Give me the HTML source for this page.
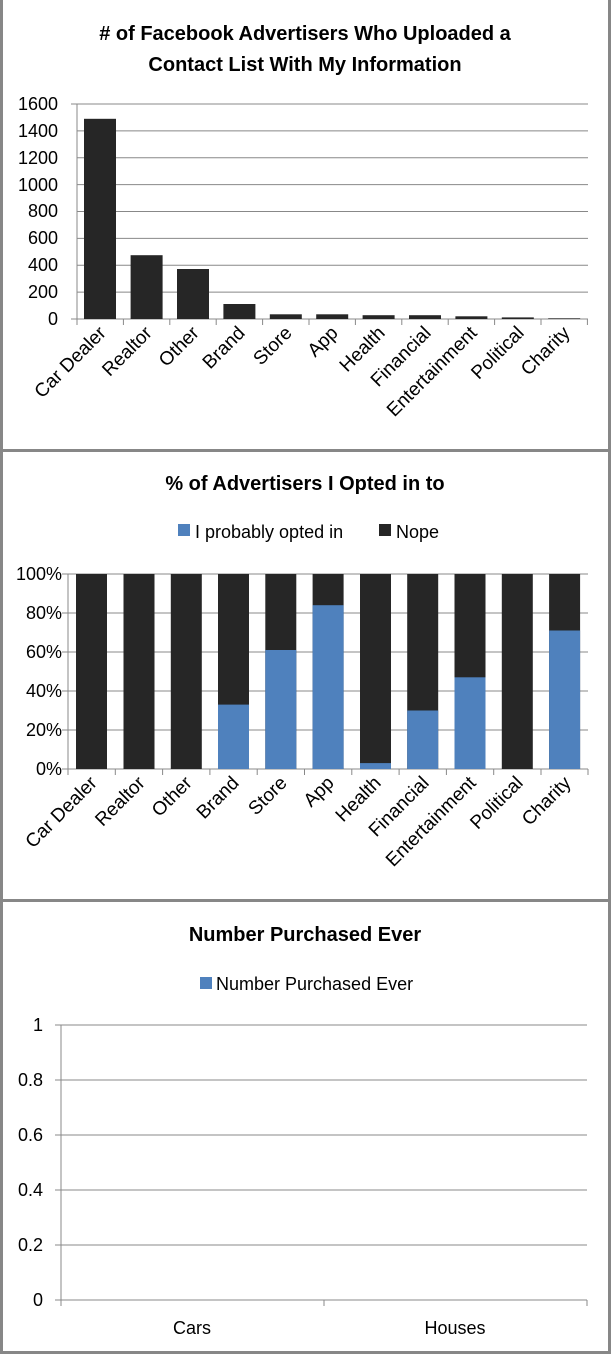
<!DOCTYPE html>
<html><head><meta charset="utf-8"><style>
html,body{margin:0;padding:0;background:#fff}
svg{display:block;font-family:"Liberation Sans",Calibri,sans-serif}
</style></head><body>
<svg width="611" height="1354" viewBox="0 0 611 1354" xmlns="http://www.w3.org/2000/svg">
<rect x="0" y="0" width="611" height="1354" fill="#fff"/>
<g fill="#878787">
<rect x="0" y="0" width="3" height="1354"/>
<rect x="608" y="0" width="3" height="1354"/>
<rect x="0" y="449" width="611" height="3"/>
<rect x="0" y="899" width="611" height="3"/>
<rect x="0" y="1351" width="611" height="3"/>
</g>

<!-- Chart 1 -->
<g font-weight="bold" font-size="20" text-anchor="middle" fill="#000">
<text x="305" y="40"># of Facebook Advertisers Who Uploaded a</text>
<text x="305" y="71">Contact List With My Information</text>
</g>
<g stroke="#888" stroke-width="1">
<line x1="77" y1="292.1" x2="588" y2="292.1"/><line x1="77" y1="265.2" x2="588" y2="265.2"/>
<line x1="77" y1="238.4" x2="588" y2="238.4"/><line x1="77" y1="211.5" x2="588" y2="211.5"/>
<line x1="77" y1="184.6" x2="588" y2="184.6"/><line x1="77" y1="157.8" x2="588" y2="157.8"/>
<line x1="77" y1="130.9" x2="588" y2="130.9"/><line x1="77" y1="104" x2="588" y2="104"/>
<line x1="77" y1="104" x2="77" y2="325"/><line x1="71" y1="319" x2="588" y2="319"/>
<line x1="71" y1="104" x2="77" y2="104"/>
<line x1="123.4" y1="319" x2="123.4" y2="325"/><line x1="169.8" y1="319" x2="169.8" y2="325"/>
<line x1="216.2" y1="319" x2="216.2" y2="325"/><line x1="262.6" y1="319" x2="262.6" y2="325"/>
<line x1="309" y1="319" x2="309" y2="325"/><line x1="355.4" y1="319" x2="355.4" y2="325"/>
<line x1="401.8" y1="319" x2="401.8" y2="325"/><line x1="448.2" y1="319" x2="448.2" y2="325"/>
<line x1="494.6" y1="319" x2="494.6" y2="325"/><line x1="541" y1="319" x2="541" y2="325"/>
<line x1="587.4" y1="319" x2="587.4" y2="325"/>
</g>
<g fill="#262626">
<rect x="84" y="118.8" width="32" height="200.2"/>
<rect x="130.6" y="255.2" width="32" height="63.8"/>
<rect x="177" y="269" width="32" height="50"/>
<rect x="223.4" y="304" width="32" height="15"/>
<rect x="269.8" y="314.3" width="32" height="4.7"/>
<rect x="316.2" y="314.3" width="32" height="4.7"/>
<rect x="362.6" y="315.2" width="32" height="3.8"/>
<rect x="409" y="315.2" width="32" height="3.8"/>
<rect x="455.4" y="316.3" width="32" height="2.7"/>
<rect x="501.8" y="317.4" width="32" height="1.6"/>
<rect x="548.2" y="318.3" width="32" height="0.7"/>
</g>
<g font-size="18" text-anchor="end" fill="#000">
<text x="58" y="325">0</text><text x="58" y="298">200</text><text x="58" y="271">400</text>
<text x="58" y="244">600</text><text x="58" y="217">800</text><text x="58" y="191">1000</text>
<text x="58" y="164">1200</text><text x="58" y="137">1400</text><text x="58" y="110">1600</text>
</g>
<g font-size="19" text-anchor="end" fill="#000">
<text transform="translate(107,334) rotate(-45)">Car Dealer</text>
<text transform="translate(153,334) rotate(-45)">Realtor</text>
<text transform="translate(200,334) rotate(-45)">Other</text>
<text transform="translate(246,334) rotate(-45)">Brand</text>
<text transform="translate(293,334) rotate(-45)">Store</text>
<text transform="translate(339,334) rotate(-45)">App</text>
<text transform="translate(386,334) rotate(-45)">Health</text>
<text transform="translate(432,334) rotate(-45)">Financial</text>
<text transform="translate(478,334) rotate(-45)">Entertainment</text>
<text transform="translate(525,334) rotate(-45)">Political</text>
<text transform="translate(571,334) rotate(-45)">Charity</text>
</g>

<!-- Chart 2 -->
<text x="305" y="490" font-weight="bold" font-size="20" text-anchor="middle">% of Advertisers I Opted in to</text>
<rect x="178" y="524" width="12" height="12" fill="#4f81bd"/>
<text x="195" y="538" font-size="18">I probably opted in</text>
<rect x="379" y="524" width="12" height="12" fill="#262626"/>
<text x="396" y="538" font-size="18">Nope</text>
<g stroke="#888" stroke-width="1">
<line x1="68" y1="730" x2="588" y2="730"/><line x1="68" y1="691" x2="588" y2="691"/>
<line x1="68" y1="652" x2="588" y2="652"/><line x1="68" y1="613" x2="588" y2="613"/>
<line x1="68" y1="574" x2="588" y2="574"/>
<line x1="68" y1="574" x2="68" y2="775"/><line x1="62" y1="769" x2="588" y2="769"/>
<line x1="62" y1="574" x2="68" y2="574"/><line x1="62" y1="613" x2="68" y2="613"/>
<line x1="62" y1="652" x2="68" y2="652"/><line x1="62" y1="691" x2="68" y2="691"/><line x1="62" y1="730" x2="68" y2="730"/>
<line x1="115.3" y1="769" x2="115.3" y2="775"/><line x1="162.6" y1="769" x2="162.6" y2="775"/>
<line x1="209.9" y1="769" x2="209.9" y2="775"/><line x1="257.2" y1="769" x2="257.2" y2="775"/>
<line x1="304.5" y1="769" x2="304.5" y2="775"/><line x1="351.8" y1="769" x2="351.8" y2="775"/>
<line x1="399.1" y1="769" x2="399.1" y2="775"/><line x1="446.4" y1="769" x2="446.4" y2="775"/>
<line x1="493.7" y1="769" x2="493.7" y2="775"/><line x1="541" y1="769" x2="541" y2="775"/>
<line x1="588" y1="769" x2="588" y2="775"/>
</g>
<g fill="#262626">
<rect x="76" y="574" width="31" height="195"/>
<rect x="123.5" y="574" width="31" height="195"/>
<rect x="170.8" y="574" width="31" height="195"/>
<rect x="218" y="574" width="31" height="195"/>
<rect x="265.3" y="574" width="31" height="195"/>
<rect x="312.6" y="574" width="31" height="195"/>
<rect x="360" y="574" width="31" height="195"/>
<rect x="407.2" y="574" width="31" height="195"/>
<rect x="454.5" y="574" width="31" height="195"/>
<rect x="501.8" y="574" width="31" height="195"/>
<rect x="549.1" y="574" width="31" height="195"/>
</g>
<g fill="#4f81bd">
<rect x="218" y="704.6" width="31" height="64.4"/>
<rect x="265.3" y="650" width="31" height="119"/>
<rect x="312.6" y="605.2" width="31" height="163.8"/>
<rect x="360" y="763.1" width="31" height="5.9"/>
<rect x="407.2" y="710.5" width="31" height="58.5"/>
<rect x="454.5" y="677.3" width="31" height="91.7"/>
<rect x="549.1" y="630.5" width="31" height="138.5"/>
</g>
<g font-size="18" text-anchor="end" fill="#000">
<text x="62" y="775">0%</text><text x="62" y="736">20%</text><text x="62" y="697">40%</text>
<text x="62" y="658">60%</text><text x="62" y="619">80%</text><text x="62" y="580">100%</text>
</g>
<g font-size="19" text-anchor="end" fill="#000">
<text transform="translate(98,784) rotate(-45)">Car Dealer</text>
<text transform="translate(146,784) rotate(-45)">Realtor</text>
<text transform="translate(193,784) rotate(-45)">Other</text>
<text transform="translate(240,784) rotate(-45)">Brand</text>
<text transform="translate(288,784) rotate(-45)">Store</text>
<text transform="translate(335,784) rotate(-45)">App</text>
<text transform="translate(382,784) rotate(-45)">Health</text>
<text transform="translate(430,784) rotate(-45)">Financial</text>
<text transform="translate(477,784) rotate(-45)">Entertainment</text>
<text transform="translate(524,784) rotate(-45)">Political</text>
<text transform="translate(572,784) rotate(-45)">Charity</text>
</g>

<!-- Chart 3 -->
<text x="305" y="941" font-weight="bold" font-size="20" text-anchor="middle">Number Purchased Ever</text>
<rect x="200" y="977" width="12" height="12" fill="#4f81bd"/>
<text x="216" y="990" font-size="18">Number Purchased Ever</text>
<g stroke="#888" stroke-width="1">
<line x1="61" y1="1245" x2="587" y2="1245"/><line x1="61" y1="1190" x2="587" y2="1190"/>
<line x1="61" y1="1135" x2="587" y2="1135"/><line x1="61" y1="1080" x2="587" y2="1080"/>
<line x1="61" y1="1025" x2="587" y2="1025"/>
<line x1="61" y1="1025" x2="61" y2="1306"/><line x1="55" y1="1300" x2="587" y2="1300"/>
<line x1="55" y1="1025" x2="61" y2="1025"/><line x1="55" y1="1080" x2="61" y2="1080"/>
<line x1="55" y1="1135" x2="61" y2="1135"/><line x1="55" y1="1190" x2="61" y2="1190"/>
<line x1="55" y1="1245" x2="61" y2="1245"/>
<line x1="324" y1="1300" x2="324" y2="1306"/><line x1="587" y1="1300" x2="587" y2="1306"/>
</g>
<g font-size="18" text-anchor="end" fill="#000">
<text x="43" y="1306">0</text><text x="43" y="1251">0.2</text><text x="43" y="1196">0.4</text>
<text x="43" y="1141">0.6</text><text x="43" y="1086">0.8</text><text x="43" y="1031">1</text>
</g>
<g font-size="18" text-anchor="middle" fill="#000">
<text x="192" y="1334">Cars</text><text x="455" y="1334">Houses</text>
</g>
</svg>
</body></html>
